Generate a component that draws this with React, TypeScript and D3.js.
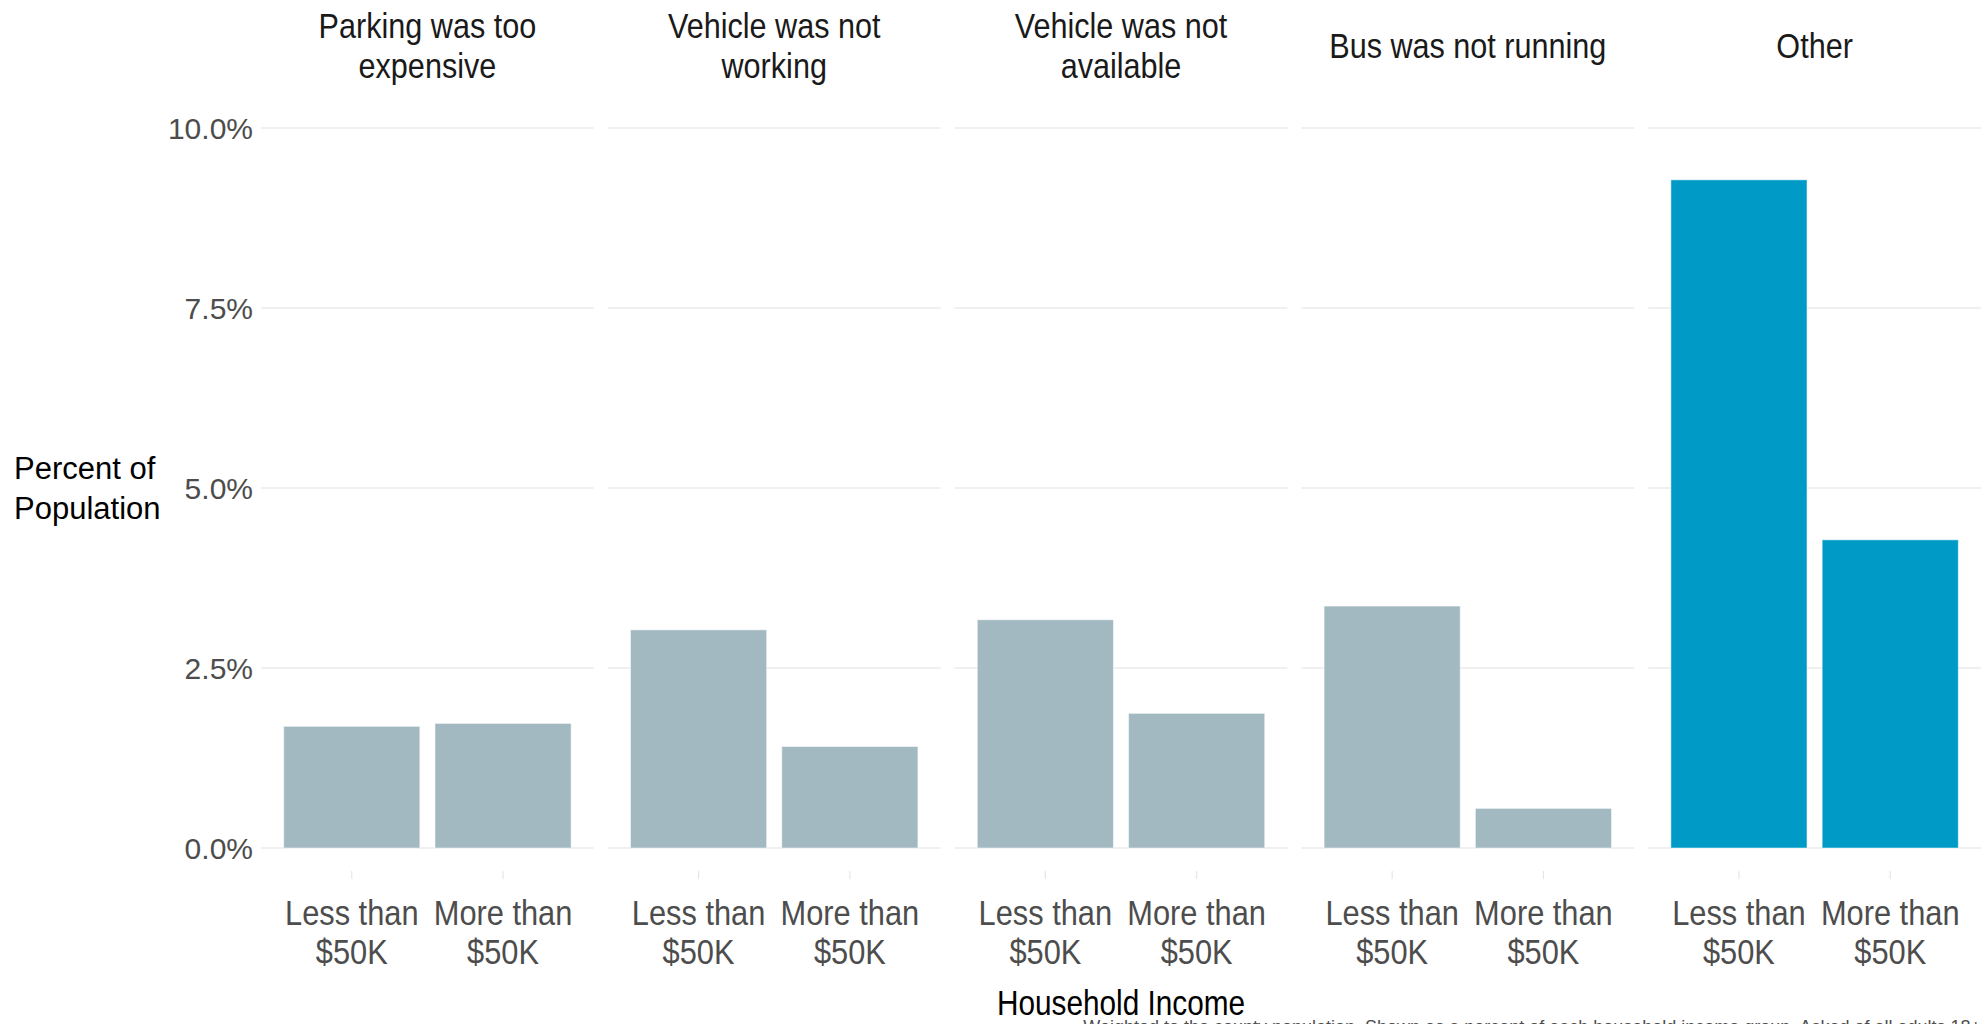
import React, { useEffect, useRef } from "react";
import * as d3 from "d3";

const reasons = [
  "Parking was too expensive",
  "Vehicle was not working",
  "Vehicle was not available",
  "Bus was not running",
  "Other",
];
const reasonLines = [
  ["Parking was too", "expensive"],
  ["Vehicle was not", "working"],
  ["Vehicle was not", "available"],
  ["Bus was not running"],
  ["Other"],
];
const incomeGroups = ["Less than $50K", "More than $50K"];
const incomeLines = [
  ["Less than", "$50K"],
  ["More than", "$50K"],
];
const lessThan50 = [1.69, 3.03, 3.17, 3.36, 9.28];
const moreThan50 = [1.73, 1.41, 1.87, 0.55, 4.28];
const yTicks = [0, 2.5, 5, 7.5, 10];
const highlight = "Other";

const WIDTH = 1988;
const HEIGHT = 1024;
const PANEL = { left: 261, right: 1981, top: 128, bottom: 848 };
const GREY = "#a3b9c2";
const BLUE = "#009ac7";
const FONT = "'Liberation Sans', Arial, sans-serif";

type Sel = d3.Selection<any, unknown, null, undefined>;

// multi-line text, squeezed horizontally to mimic the narrow face
function narrowText(
  parent: Sel,
  cx: number,
  cy: number,
  lines: string[],
  size: number,
  lineH: number,
  sx: number,
  fill: string,
) {
  const t = parent
    .append("text")
    .attr("transform", `translate(${cx},${cy}) scale(${sx},1)`)
    .attr("text-anchor", "middle")
    .attr("font-family", FONT)
    .attr("font-size", size)
    .attr("fill", fill);
  lines.forEach((s, j) => {
    t.append("tspan")
      .attr("x", 0)
      .attr("y", -((lines.length - 1) * lineH) / 2 + j * lineH)
      .attr("dy", "0.35em")
      .text(s);
  });
  return t;
}

export default function App() {
  const svgRef = useRef<SVGSVGElement | null>(null);

  useEffect(() => {
    document.body.style.margin = "0";
    const svg = d3.select(svgRef.current);
    svg.selectAll("*").remove();

    const facet = d3
      .scaleBand<string>()
      .domain(reasons)
      .range([PANEL.left, PANEL.right])
      .paddingInner(0.0403)
      .paddingOuter(0);

    const y = d3.scaleLinear().domain([0, 10]).range([PANEL.bottom, PANEL.top]);

    // y tick labels
    svg
      .append("g")
      .selectAll("text")
      .data(yTicks)
      .join("text")
      .attr("x", PANEL.left - 8)
      .attr("y", (d) => y(d))
      .attr("dy", "0.35em")
      .attr("text-anchor", "end")
      .attr("font-family", FONT)
      .attr("font-size", 30)
      .attr("fill", "#4d4d4d")
      .text((d) => d3.format(".1f")(d) + "%");

    // y title
    const yTitle = svg
      .append("text")
      .attr("font-family", FONT)
      .attr("font-size", 31)
      .attr("fill", "#000");
    ["Percent of", "Population"].forEach((t, i) => {
      yTitle
        .append("tspan")
        .attr("x", 14)
        .attr("y", (PANEL.top + PANEL.bottom) / 2 - 20 + i * 40)
        .attr("dy", "0.35em")
        .text(t);
    });

    reasons.forEach((reason, i) => {
      const x0 = facet(reason)!;
      const w = facet.bandwidth();
      const x = d3
        .scaleBand<string>()
        .domain(incomeGroups)
        .range([x0, x0 + w])
        .paddingInner(0.1)
        .paddingOuter(0.15);

      const g = svg.append("g");

      // gridlines
      g.selectAll("line.grid")
        .data(yTicks)
        .join("line")
        .attr("class", "grid")
        .attr("x1", x0)
        .attr("x2", x0 + w)
        .attr("y1", (d) => y(d))
        .attr("y2", (d) => y(d))
        .attr("stroke", "#ebebeb")
        .attr("stroke-width", 1.6);

      // facet title
      narrowText(g, x0 + w / 2, 45, reasonLines[i], 36, 40, 0.85, "#1a1a1a");

      const vals = [lessThan50[i], moreThan50[i]];
      g.selectAll("rect")
        .data(vals)
        .join("rect")
        .attr("x", (_, j) => x(incomeGroups[j])!)
        .attr("width", x.bandwidth())
        .attr("y", (d) => y(d))
        .attr("height", (d) => y(0) - y(d))
        .attr("fill", reason === highlight ? BLUE : GREY)
        .attr("stroke", "#ffffff")
        .attr("stroke-opacity", 0.5)
        .attr("stroke-width", 1);

      // x ticks
      g.selectAll("line.tick")
        .data(incomeGroups)
        .join("line")
        .attr("class", "tick")
        .attr("x1", (d) => x(d)! + x.bandwidth() / 2)
        .attr("x2", (d) => x(d)! + x.bandwidth() / 2)
        .attr("y1", 871)
        .attr("y2", 879)
        .attr("stroke", "#e6e6e6")
        .attr("stroke-width", 1.2);

      incomeGroups.forEach((grp, j) => {
        narrowText(
          g,
          x(grp)! + x.bandwidth() / 2,
          932,
          incomeLines[j],
          35,
          39,
          0.88,
          "#4d4d4d",
        );
      });
    });

    // x title
    narrowText(
      svg,
      (PANEL.left + PANEL.right) / 2,
      1003,
      ["Household Income"],
      35,
      0,
      0.85,
      "#000",
    );

    // caption (cut off by the bottom edge)
    svg
      .append("text")
      .attr("x", PANEL.right)
      .attr("y", 1033)
      .attr("text-anchor", "end")
      .attr("font-family", FONT)
      .attr("font-size", 18)
      .attr("fill", "#4d4d4d")
      .text(
        "Weighted to the county population. Shown as a percent of each household income group. Asked of all adults 18+",
      );
  }, []);

  return (
    <svg
      ref={svgRef}
      width={WIDTH}
      height={HEIGHT}
      style={{ display: "block", background: "#fff" }}
    />
  );
}
